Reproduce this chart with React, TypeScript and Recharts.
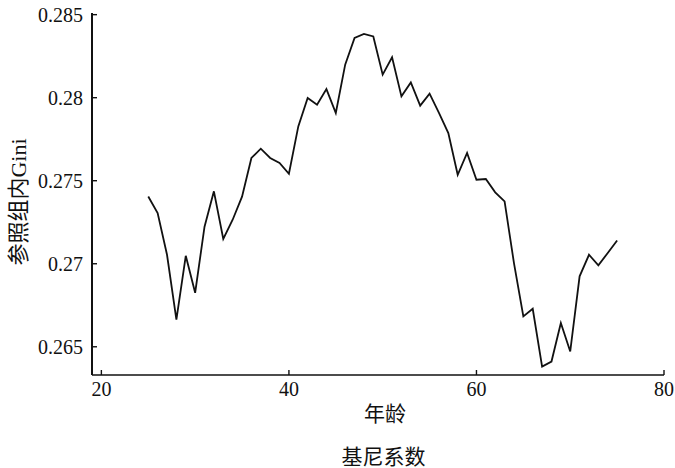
import React from 'react';
import { LineChart, Line, XAxis, YAxis } from 'recharts';

const ages: number[] = [
  25, 26, 27, 28, 29, 30, 31, 32, 33, 34, 35, 36, 37, 38, 39, 40, 41, 42, 43, 44, 45, 46, 47, 48, 49, 50,
  51, 52, 53, 54, 55, 56, 57, 58, 59, 60, 61, 62, 63, 64, 65, 66, 67, 68, 69, 70, 71, 72, 73, 74, 75,
];
const gini: number[] = [
  0.27405, 0.27305, 0.27054, 0.26663, 0.27048, 0.26825, 0.27223, 0.27436, 0.27149, 0.27265,
  0.27404, 0.27637, 0.27693, 0.27637, 0.27607, 0.27542, 0.27827, 0.27998, 0.27958, 0.28052,
  0.27908, 0.28199, 0.2836, 0.28384, 0.28369, 0.28139, 0.28243, 0.28008, 0.28092, 0.27952,
  0.28024, 0.27908, 0.27787, 0.27536, 0.27667, 0.27506, 0.2751, 0.2743, 0.27375, 0.27004,
  0.26683, 0.26729, 0.26381, 0.26411, 0.26643, 0.26472, 0.26924, 0.27054, 0.2699, 0.27065, 0.2714,
];
const xTicks: number[] = [20, 40, 60, 80];
const yTicks: number[] = [0.265, 0.27, 0.275, 0.28, 0.285];
const xLabel = '年龄';
const yLabel = '参照组内Gini';
const caption = '基尼系数';

const data = ages.map((a, i) => ({ age: a, gini: gini[i] }));

const FONT = '"Liberation Serif", "Noto Sans CJK SC", serif';

const XLabel = (props: any) => {
  const vb = props.viewBox || {};
  const cx = vb.x + vb.width / 2 + 7;
  return (
    <text x={cx} y={vb.y + 46} textAnchor="middle" fontFamily={FONT} fontSize={21} fill="#111">
      {xLabel}
    </text>
  );
};

const YLabel = (props: any) => {
  const vb = props.viewBox || {};
  const cx = 18;
  const cy = vb.y + vb.height / 2 + 8;
  return (
    <text
      x={cx}
      y={cy}
      textAnchor="middle"
      dominantBaseline="central"
      transform={`rotate(-90, ${cx}, ${cy})`}
      fontFamily={FONT}
      fontSize={22}
      fill="#111"
    >
      {yLabel}
    </text>
  );
};

export default function App() {
  return (
    <div style={{ position: 'absolute', left: 0, top: 0, width: 675, height: 468, background: '#fff' }}>
      <LineChart
        width={675}
        height={468}
        data={data}
        margin={{ top: 13, right: 11, bottom: 53, left: 0 }}
      >
        <XAxis
          dataKey="age"
          type="number"
          domain={[19, 80]}
          ticks={xTicks}
          allowDataOverflow
          height={40}
          tickSize={-5}
          tickMargin={12}
          axisLine={{ stroke: '#111', strokeWidth: 1.6 }}
          tickLine={{ stroke: '#111', strokeWidth: 1.4 }}
          tick={{ fill: '#111', fontSize: 20, fontFamily: FONT }}
          label={<XLabel />}
        />
        <YAxis
          dataKey="gini"
          type="number"
          domain={[0.2633, 0.2851]}
          ticks={yTicks}
          allowDataOverflow
          width={92}
          tickSize={-5}
          tickMargin={14}
          axisLine={{ stroke: '#111', strokeWidth: 2 }}
          tickLine={{ stroke: '#111', strokeWidth: 1.4 }}
          tick={{ fill: '#111', fontSize: 20, fontFamily: FONT }}
          label={<YLabel />}
        />
        <Line
          type="linear"
          dataKey="gini"
          stroke="#111"
          strokeWidth={1.8}
          dot={false}
          activeDot={false}
          isAnimationActive={false}
        />
      </LineChart>
      <div
        style={{
          position: 'absolute',
          left: 92,
          width: 583,
          top: 445,
          textAlign: 'center',
          fontFamily: FONT,
          fontSize: 21,
          lineHeight: '24px',
          color: '#111',
        }}
      >
        {caption}
      </div>
    </div>
  );
}
